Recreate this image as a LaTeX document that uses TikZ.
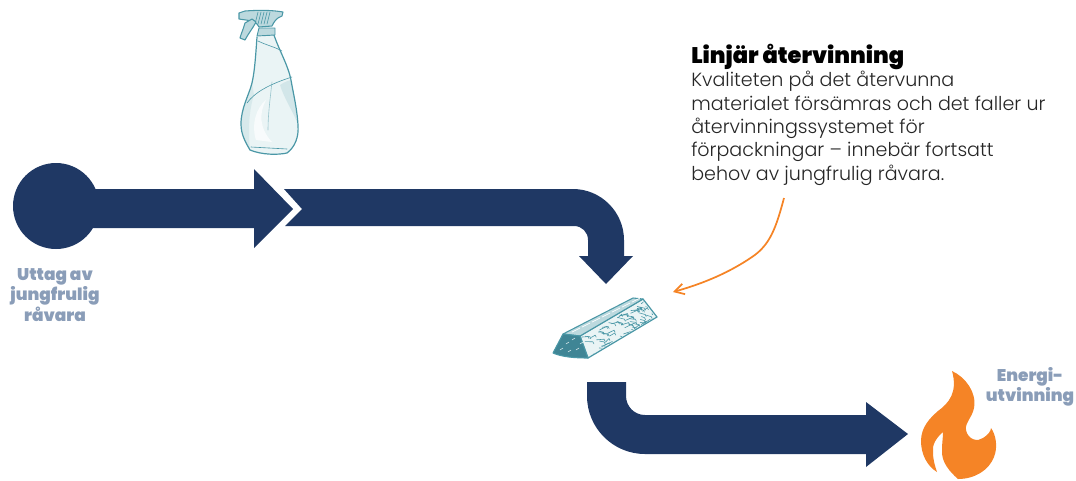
\documentclass[tikz,border=0pt]{standalone}
\usepackage{fontspec}
\usetikzlibrary{arrows.meta}
\setmainfont{Poppins}
\newfontfamily\lightf{Poppins Light}
\newfontfamily\blackf{Poppins Black}
\definecolor{navy}{HTML}{1F3864}
\definecolor{flame}{HTML}{F58426}
\definecolor{slate}{HTML}{8A9DB8}
\definecolor{teal}{HTML}{4A97A6}
\definecolor{tealdark}{HTML}{3F8595}
\definecolor{tealpale}{HTML}{EAF4F5}
\definecolor{tealmid}{HTML}{BCD9DE}
\tikzset{
  blockarrow/.style={fill=navy,draw=none},
  caption/.style={font=\blackf\fontsize{12.7}{15.4}\selectfont,text=slate,align=center,inner sep=0pt},
  tealline/.style={draw=teal,line width=0.9pt,line join=round,line cap=round},
  tealthin/.style={draw=teal,line width=0.45pt,line cap=round},
}
\begin{document}
\begin{tikzpicture}[x=0.75pt,y=-0.75pt]
\useasboundingbox (0,0) rectangle (1076,480);
% source circle and first arrow
\fill[blockarrow] (56,206) circle[radius=43];
\fill[blockarrow] (90,189) -- (254,189) -- (254,169) -- (293,209) -- (254,248) -- (254,228) -- (90,228) -- cycle;
% second arrow
\fill[blockarrow] (284,189) -- (573,189) .. controls (601,189) and (624,212) .. (624,240) -- (624,256) -- (633,256) -- (606,284) -- (579,256) -- (588,256) -- (588,240) .. controls (588,232) and (582,226) .. (574,226) -- (285,226) -- (302,209) -- cycle;
% third arrow
\fill[blockarrow] (587,382) -- (626,382) -- (626,396) .. controls (626,406) and (634,415) .. (645,415) -- (866,415) -- (866,402) -- (908,434) -- (866,467) -- (866,454) -- (645,454) .. controls (613,454) and (587,428) .. (587,396) -- cycle;
% flame
\fill[flame] (952,371) .. controls (965,377) and (977,392) .. (974,408) .. controls (972,418) and (965,422) .. (966,430) .. controls (968,440) and (978,442) .. (983,438) .. controls (988,435) and (991,431) .. (991,428) .. controls (996,435) and (998,447) .. (994,457) .. controls (989,470) and (975,479) .. (958,479) .. controls (950,472) and (941,462) .. (942,450) .. controls (942,443) and (943,438) .. (943,432) .. controls (936,438) and (932,445) .. (933,452) .. controls (933,460) and (935,466) .. (937,472) .. controls (927,466) and (921,454) .. (921,441) .. controls (921,427) and (930,418) .. (938,411) .. controls (949,403) and (958,392) .. (952,371) -- cycle;
% bottle
\path[fill=tealpale] (257,37) .. controls (256,50) and (255,70) .. (252,83) .. controls (249,95) and (241,108) .. (241,124) .. controls (241,135) and (246,143) .. (250,150) .. controls (262,155) and (278,155) .. (287,153) .. controls (295,147) and (299,137) .. (298,125) .. controls (297,108) and (293,92) .. (291,80) .. controls (288,65) and (279,50) .. (274,35) -- cycle;
\path[fill=tealmid,opacity=.4] (252,83) .. controls (249,95) and (241,108) .. (241,124) .. controls (241,135) and (246,143) .. (250,150) .. controls (248,130) and (249,110) .. (254,95) -- cycle;
\path[fill=white,opacity=.7] (256,140) .. controls (251,125) and (256,108) .. (266,100) .. controls (259,113) and (259,128) .. (272,142) -- cycle;
\path[fill=tealmid,opacity=.5] (280,85) .. controls (284,82) and (290,80) .. (291,80) .. controls (294,95) and (296,110) .. (297,122) .. controls (292,110) and (284,98) .. (280,85) -- cycle;
\path[tealline] (257,37) .. controls (256,50) and (255,70) .. (252,83) .. controls (249,95) and (241,108) .. (241,124) .. controls (241,135) and (246,143) .. (250,150) .. controls (262,155) and (278,155) .. (287,153) .. controls (295,147) and (299,137) .. (298,125) .. controls (297,108) and (293,92) .. (291,80) .. controls (288,65) and (279,50) .. (274,35);
\path[tealthin] (258,41) .. controls (266,45) and (275,47) .. (282,51);
\path[tealthin] (247,103) .. controls (255,92) and (270,84) .. (292,77);
\path[tealthin,opacity=.5] (272,82) .. controls (270,100) and (268,115) .. (268,130);
\path[tealthin] (251,147) -- (287,149);
% cap and collar
\path[fill=tealmid,draw=teal,line width=.7pt,line join=round] (259,28) -- (275,28) -- (275,35) -- (257,36) -- cycle;
% sprayer head
\path[fill=tealmid,draw=teal,line width=.8pt,line join=round] (239,13) -- (245,11) .. controls (258,10) and (272,10) .. (283,12) -- (282,16) .. controls (276,18) and (274,22) .. (272,26) -- (259,27) .. controls (257,22) and (252,21) .. (246,20) -- (239,19) -- cycle;
\foreach \hx in {258,261,264,267,270} {\path[tealthin] (\hx,12) -- (\hx-3,24);}
% trigger
\path[fill=tealmid,draw=teal,line width=.8pt,line join=round] (245,23) .. controls (243,30) and (241,34) .. (240,38) -- (245,40) .. controls (248,34) and (253,28) .. (256,22) -- (252,19) -- cycle;
% ingot
\path[fill=tealpale,draw=teal,line width=.9pt,line join=round] (580,336) -- (643,299) -- (657,317) -- (588,358) -- cycle;
\path[fill=tealmid,draw=teal,line width=.8pt,line join=round] (563,334) -- (633,298) -- (643,299) -- (580,336) -- cycle;
\path[fill=tealdark,draw=teal,line width=.8pt,line join=round] (553,353) -- (563,334) -- (580,336) -- (588,358) .. controls (575,358) and (562,357) .. (553,353) -- cycle;
\begin{scope}
\clip (581,337) -- (643,301) -- (655,317) -- (589,356) -- cycle;
\pgfmathsetseed{17}
\foreach \k in {1,...,70} {
  \pgfmathsetmacro{\ta}{rnd}
  \pgfmathsetmacro{\tb}{rnd}
  \pgfmathsetmacro{\sx}{581+66*\ta+8*\tb}
  \pgfmathsetmacro{\sy}{337-37*\ta+19*\tb}
  \pgfmathsetmacro{\dx}{3+5*rnd}
  \pgfmathsetmacro{\dy}{-4+6*rnd}
  \path[tealthin] (\sx,\sy) -- ++(\dx,\dy) -- ++(1,2);
}
\end{scope}
\foreach \sx/\sy in {572/332,582/327,592/322,602/317,612/312,622/307,632/302}
  {\path[draw=white,line width=.5pt] (\sx,\sy) -- ++(8,-4);}
\foreach \sx/\sy in {560/350,566/344,572/340,568/352,576/350,580/344}
  {\path[draw=tealpale,line width=.4pt] (\sx,\sy) -- ++(3,-2);}
% connector
\coordinate (calloutstart) at (784,198);
\coordinate (calloutend) at (673,292);
\draw[flame,line width=1.3pt,-{Straight Barb[length=7pt,width=10pt,angle'=60]}] (calloutstart) .. controls (776,228) and (770,245) .. (752,257) .. controls (730,272) and (705,283) .. (calloutend);
% text
\node[anchor=base west,inner sep=0pt,font=\blackf\fontsize{16.9}{20}\selectfont] (title) at (691,63) {Linjär återvinning};
\node[anchor=base west,inner sep=0pt,align=left,text=black!85,font=\lightf\fontsize{14.3}{17.5}\selectfont] (body) at (691,180) {Kvaliteten på det återvunna\\materialet försämras och det faller ur\\återvinningssystemet för\\förpackningar – innebär fortsatt\\behov av jungfrulig råvara.};
\node[caption] (source) at (55,295) {Uttag av\\jungfrulig\\råvara};
\node[caption] (energy) at (1030,387) {Energi-\\utvinning};
\end{tikzpicture}
\end{document}
